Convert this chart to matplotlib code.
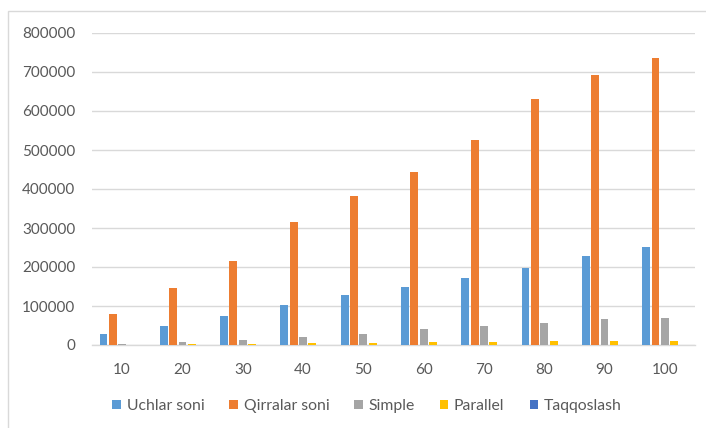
import matplotlib
matplotlib.use("Agg")
import matplotlib.pyplot as plt
from matplotlib.patches import Rectangle
import numpy as np

plt.rcParams['font.family'] = ['Lato', 'DejaVu Sans']

categories = ["10", "20", "30", "40", "50", "60", "70", "80", "90", "100"]
uchlar_soni = [28000, 49000, 74000, 102000, 128000, 149000, 172000, 197000, 228000, 251000]
qirralar_soni = [79000, 146000, 215000, 315000, 382000, 443000, 526000, 630000, 692000, 736000]
simple = [3000, 8000, 12000, 20000, 28000, 41000, 49000, 56000, 66000, 70000]
parallel = [1000, 2000, 3000, 4000, 5000, 7000, 8000, 9000, 10000, 11000]
taqqoslash = [50, 100, 150, 200, 250, 300, 350, 400, 450, 500]

series = [
    ("Uchlar soni", uchlar_soni, "#5B9BD5"),
    ("Qirralar soni", qirralar_soni, "#ED7D31"),
    ("Simple", simple, "#A5A5A5"),
    ("Parallel", parallel, "#FFC000"),
    ("Taqqoslash", taqqoslash, "#4472C4"),
]

W, H = 706, 428
fig = plt.figure(figsize=(W / 100, H / 100), dpi=100)
ax = fig.add_axes([92 / W, 1 - 345 / H, (695 - 92) / W, (345 - 33) / H])

# chart area frame
fig.patches.append(Rectangle((8 / W, -0.1), 1.2, 1 - 11 / H + 0.1,
                             transform=fig.transFigure, fill=False,
                             edgecolor="#D9D9D9", linewidth=1.0, zorder=0))

x = np.arange(len(categories))
pitch = 0.155
width = 0.13
for i, (name, vals, col) in enumerate(series):
    ax.bar(x + (i - 2) * pitch, vals, width, color=col, label=name, zorder=3)

ax.set_xlim(-0.5, len(categories) - 0.5)
ax.set_ylim(0, 800000)
ax.set_yticks(np.arange(0, 800001, 100000))
ax.set_yticklabels([f"{v:d}" for v in range(0, 800001, 100000)])
ax.set_xticks(x)
ax.set_xticklabels(categories)

text_col = "#595959"
ax.tick_params(axis="y", length=0, pad=12, labelsize=11, labelcolor=text_col)
ax.tick_params(axis="x", length=0, pad=13, labelsize=11, labelcolor=text_col)

ax.grid(axis="y", color="#D9D9D9", linewidth=1.0, zorder=0)
ax.set_axisbelow(True)
for s in ["left", "right", "top"]:
    ax.spines[s].set_visible(False)
ax.spines["bottom"].set_color("#D9D9D9")
ax.spines["bottom"].set_linewidth(1.0)

leg = fig.legend(loc="center", bbox_to_anchor=(367 / W, 1 - 406 / H), ncol=5,
                 frameon=False, fontsize=11.3, handlelength=0.55, handleheight=0.55,
                 handletextpad=0.35, columnspacing=1.6)
for t in leg.get_texts():
    t.set_color(text_col)

fig.savefig("out.png", dpi=100, facecolor="white")
